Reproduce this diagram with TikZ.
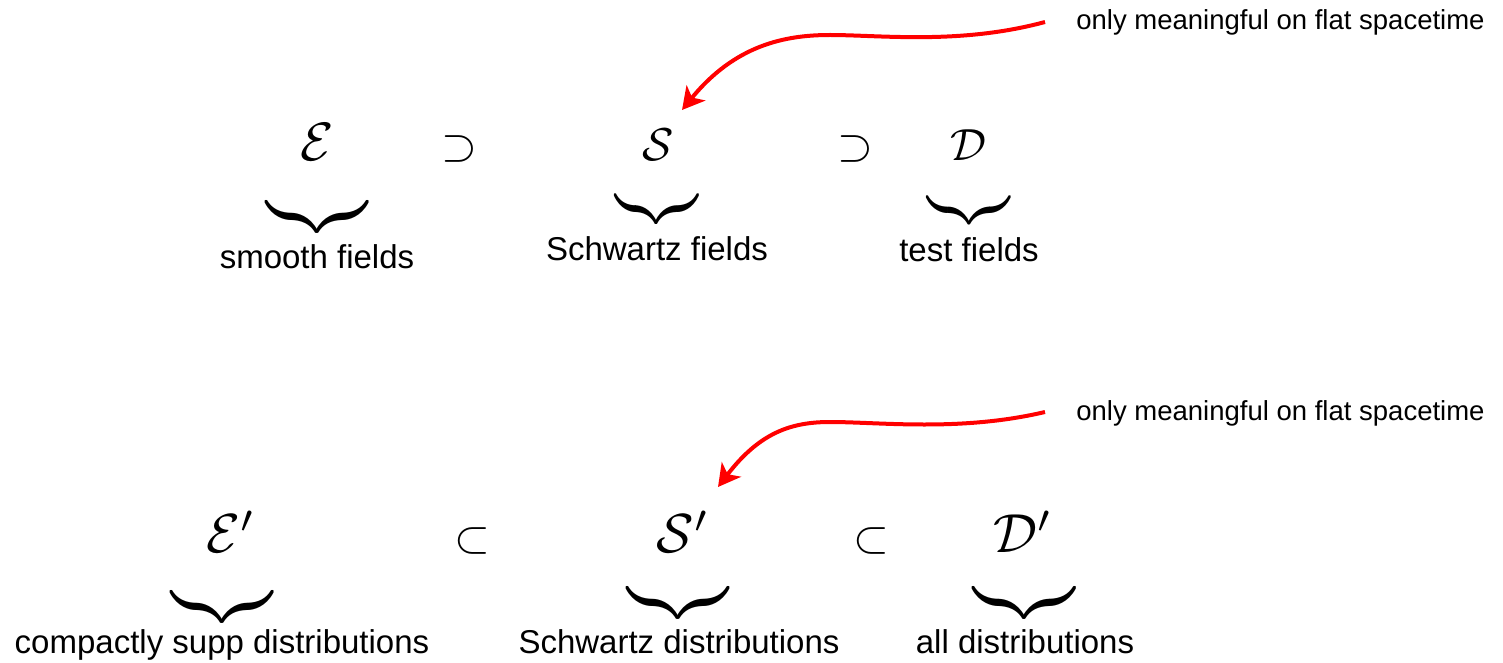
\documentclass[tikz,border=0pt]{standalone}
\usepackage{graphicx}
\usepackage{fontspec}
\setmainfont{Liberation Sans}
\usetikzlibrary{arrows.meta}
\newcommand\mysym[2]{\scalebox{#1}{$#2$}}
\newcommand\mybrace[2]{\scalebox{#1}[#2]{$\underbrace{\hspace{0pt}}$}}
\tikzset{
  sym/.style={inner sep=0pt, anchor=base},
  brc/.style={inner sep=0pt, anchor=center},
  lbl/.style={inner sep=0pt, anchor=base, font=\fontsize{16.5}{16.5}\selectfont},
  note/.style={inner sep=0pt, anchor=base west, font=\fontsize{13.75}{13.75}\selectfont},
  redarrow/.style={draw=red, line width=2pt, -{Stealth[length=11pt,width=12pt,inset=3pt]}}
}
\begin{document}
\begin{tikzpicture}[x=0.5pt,y=-0.5pt]
\useasboundingbox (0,0) rectangle (1503,663);
% top row
\node[sym] (E) at (317,161) {\mysym{2.7}{\mathcal{E}}};
\node[sym] (sup1) at (459,161) {\mysym{2.3}{\supset}};
\node[sym] (S) at (658,161) {\mysym{2.3}{\mathcal{S}}};
\node[sym] (sup2) at (855,161) {\mysym{2.3}{\supset}};
\node[sym] (D) at (968,161) {\mysym{2.25}{\mathcal{D}}};
\node[brc] (bE) at (317,217) {\mybrace{2.8}{3.0}};
\node[brc] (bS) at (656.5,209) {\mybrace{2.3}{2.8}};
\node[brc] (bD) at (969,210) {\mybrace{2.28}{2.65}};
\node[lbl] (lE) at (317,268) {smooth fields};
\node[lbl] (lS) at (657,260) {Schwartz fields};
\node[lbl] (lD) at (969,262) {test fields};
% bottom row
\node[sym] (Ep) at (231,552) {\mysym{2.75}{\mathcal{E}'}};
\node[sym] (sub1) at (472,552) {\mysym{2.3}{\subset}};
\node[sym] (Sp) at (683,552) {\mysym{2.75}{\mathcal{S}'}};
\node[sym] (sub2) at (871,552) {\mysym{2.3}{\subset}};
\node[sym] (Dp) at (1023,552) {\mysym{2.75}{\mathcal{D}'}};
\node[brc] (bEp) at (222,607) {\mybrace{2.8}{3.0}};
\node[brc] (bSp) at (678,603) {\mybrace{2.78}{3.0}};
\node[brc] (bDp) at (1024,603) {\mybrace{2.83}{3.0}};
\node[lbl] (lEp) at (222,653) {compactly supp distributions};
\node[lbl] (lSp) at (679,653) {Schwartz distributions};
\node[lbl] (lDp) at (1025,653) {all distributions};
% notes and arrows
\node[note] (n1) at (1076,30) {only meaningful on flat spacetime};
\node[note] (n2) at (1076,420) {only meaningful on flat spacetime};
\coordinate (s1) at (1045,22);
\coordinate (m1) at (830,35);
\coordinate (t1) at (682,110);
\coordinate (s2) at (1045,412);
\coordinate (m2) at (830,422);
\coordinate (t2) at (718,487);
\draw[redarrow] (s1) .. controls +(-85,23) and +(50,0) .. (m1)
  .. controls +(-45,0) and +(53,-65) .. (t1);
\draw[redarrow] (s2) .. controls +(-85,20) and +(50,0) .. (m2)
  .. controls +(-38,0) and +(42,-55) .. (t2);
\end{tikzpicture}
\end{document}
